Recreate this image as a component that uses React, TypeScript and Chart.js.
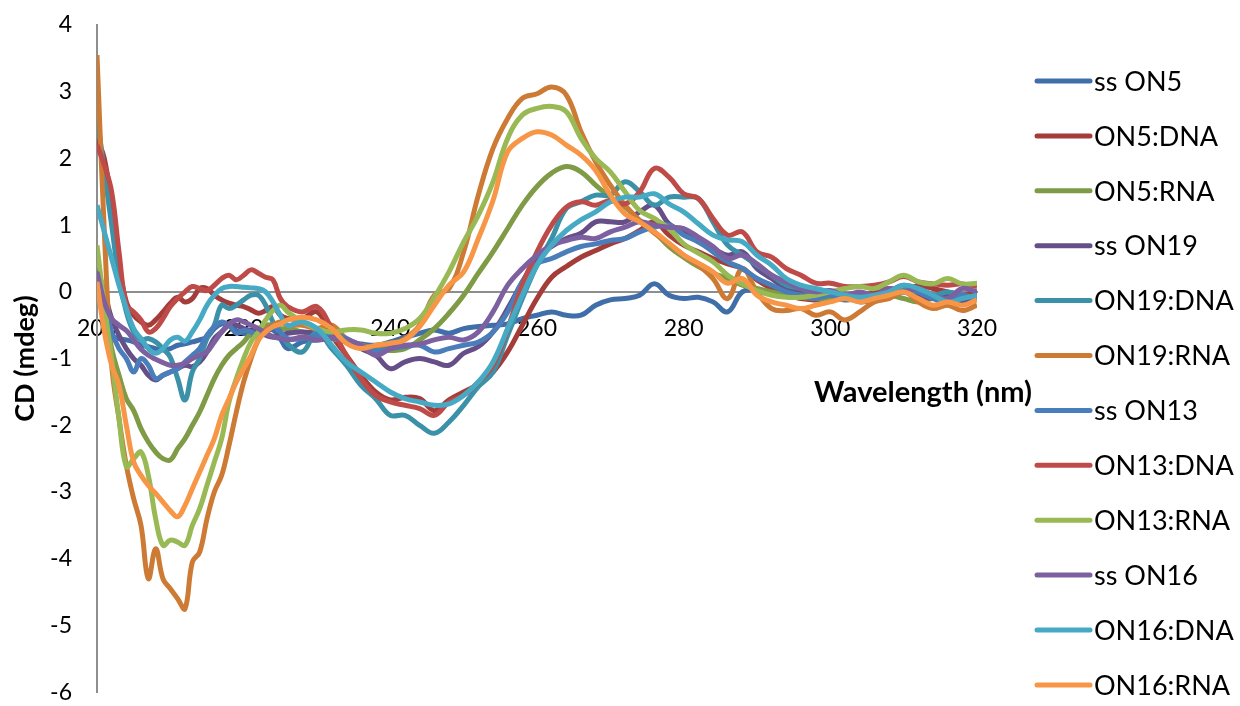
import React, { useEffect, useRef } from 'react';
import { Chart, registerables } from 'chart.js';

Chart.register(...registerables);

// Wavelength grid (nm): 1 nm steps 200-226, 2 nm steps 228-320
const wavelengths = [
  200, 201, 202, 203, 204, 205, 206, 207, 208, 209, 210, 211, 212, 213, 214, 215, 216, 217, 218, 219, 220, 221, 222, 223, 224, 225, 226,
  228, 230, 232, 234, 236, 238, 240, 242, 244, 246, 248, 250, 252, 254, 256, 258, 260, 262, 264, 266, 268, 270, 272, 274, 276, 278, 280,
  282, 284, 286, 288, 290, 292, 294, 296, 298, 300, 302, 304, 306, 308, 310, 312, 314, 316, 318, 320,
];

const xTicks = [200, 220, 240, 260, 280, 300, 320];
const yTicks = [-6, -5, -4, -3, -2, -1, 0, 1, 2, 3, 4];

const seriesNames = [
  'ss ON5', 'ON5:DNA', 'ON5:RNA', 'ss ON19', 'ON19:DNA', 'ON19:RNA',
  'ss ON13', 'ON13:DNA', 'ON13:RNA', 'ss ON16', 'ON16:DNA', 'ON16:RNA',
];

const seriesColors = [
  '#3F6EA8', '#A43D3A', '#7F9B46', '#664F88', '#3A91A8', '#CD7A34',
  '#4A7EBB', '#BE4B48', '#98B954', '#7D60A0', '#46AAC5', '#F79646',
];

const ssON5 = [
  0.05, -0.35, -0.65, -0.7, -0.72, -0.75, -0.8, -0.82, -0.85, -0.87, -0.85, -0.8, -0.78, -0.75, -0.72, -0.68, -0.55, -0.48, -0.5, -0.58, -0.62, -0.65, -0.67, -0.6, -0.57, -0.7, -0.85,
  -0.75, -0.72, -0.7, -0.75, -0.78, -0.8, -0.75, -0.68, -0.62, -0.57, -0.62, -0.55, -0.52, -0.5, -0.48, -0.4, -0.35, -0.3, -0.35, -0.35,
  -0.2, -0.12, -0.1, -0.05, 0.12, -0.05, -0.1, -0.08, -0.15, -0.3, 0.0, 0.02, 0.0, -0.05, -0.05, -0.1, -0.08, -0.12, -0.1, -0.05,
  0.0, 0.05, -0.05, -0.1, -0.05, -0.12, -0.05,
];

const on5DNA = [
  2.3, 2.0, 1.3, 0.4, -0.15, -0.35, -0.45, -0.5, -0.42, -0.3, -0.17, -0.08, -0.15, -0.1, 0.05, 0.05, -0.05, -0.12, -0.17, -0.2, -0.22, -0.27, -0.32, -0.28, -0.22, -0.35, -0.4,
  -0.4, -0.3, -0.65, -0.95, -1.25, -1.5, -1.62, -1.58, -1.6, -1.78, -1.62, -1.5, -1.38, -1.2, -0.9, -0.5, -0.1, 0.22, 0.38, 0.52,
  0.62, 0.72, 0.8, 0.92, 1.05, 0.85, 0.7, 0.6, 0.5, 0.42, 0.35, 0.18, 0.05, -0.05, -0.1, -0.12, -0.08, -0.05, -0.1, 0.0,
  0.05, 0.0, 0.1, 0.05, 0.0, -0.05, 0.0,
];

const on5RNA = [
  0.45, -0.2, -0.85, -1.25, -1.6, -1.78, -2.05, -2.25, -2.4, -2.5, -2.52, -2.35, -2.2, -2.0, -1.8, -1.55, -1.3, -1.1, -0.95, -0.85, -0.75, -0.62, -0.55, -0.5, -0.5, -0.55, -0.55,
  -0.6, -0.65, -0.7, -0.75, -0.8, -0.85, -0.88, -0.85, -0.72, -0.55, -0.32, -0.05, 0.28, 0.6, 0.95, 1.3, 1.58, 1.78, 1.88, 1.8,
  1.6, 1.42, 1.27, 1.07, 0.9, 0.68, 0.52, 0.38, 0.28, 0.2, 0.1, 0.05, 0.0, -0.05, -0.08, -0.1, -0.12, -0.1, -0.12, -0.1,
  -0.05, -0.1, -0.15, -0.1, -0.12, -0.08, -0.1,
];

const ssON19 = [
  0.35, 0.0, -0.4, -0.65, -0.85, -1.0, -1.1, -1.25, -1.32, -1.25, -1.2, -1.15, -1.1, -1.12, -1.05, -0.9, -0.7, -0.6, -0.5, -0.5, -0.55, -0.58, -0.6, -0.65, -0.68, -0.65, -0.62,
  -0.6, -0.62, -0.65, -0.7, -0.85, -0.95, -1.15, -1.05, -1.0, -1.05, -1.1, -0.92, -0.82, -0.6, -0.25, 0.15, 0.5, 0.68, 0.8, 0.88,
  1.05, 1.05, 1.05, 1.2, 1.3, 1.02, 0.9, 0.75, 0.65, 0.55, 0.6, 0.35, 0.2, 0.05, 0.0, -0.05, 0.0, -0.05, -0.15, -0.1,
  0.0, 0.05, -0.05, -0.1, -0.05, -0.15, -0.05,
];

const on19DNA = [
  2.65, 1.8, 1.0, 0.2, -0.3, -0.6, -0.72, -0.7, -0.75, -0.85, -0.98, -1.3, -1.62, -1.2, -1.0, -0.7, -0.5, -0.2, -0.25, -0.2, -0.12, -0.05, -0.05, -0.2, -0.45, -0.6, -0.78,
  -0.9, -0.6, -0.85, -1.1, -1.4, -1.6, -1.85, -1.85, -2.0, -2.12, -1.95, -1.7, -1.42, -1.2, -0.65, -0.1, 0.4, 0.8, 1.25, 1.35,
  1.45, 1.45, 1.65, 1.5, 1.3, 1.42, 1.42, 1.4, 1.05, 0.7, 0.55, 0.4, 0.25, 0.1, 0.05, -0.05, 0.0, -0.05, -0.1, -0.05,
  0.0, 0.05, 0.0, -0.05, 0.0, -0.05, -0.1,
];

const on19RNA = [
  3.55, 0.9, -1.1, -1.9, -2.6, -3.1, -3.5, -4.3, -3.85, -4.3, -4.45, -4.6, -4.75, -4.05, -3.9, -3.4, -3.0, -2.75, -2.3, -1.8, -1.35, -1.0, -0.72, -0.55, -0.5, -0.45, -0.5,
  -0.5, -0.55, -0.5, -0.7, -0.8, -0.85, -0.8, -0.7, -0.5, -0.05, 0.05, 0.6, 1.45, 2.15, 2.6, 2.9, 2.97, 3.07, 2.95, 2.4,
  1.95, 1.6, 1.3, 1.07, 0.88, 0.72, 0.55, 0.4, 0.2, -0.1, 0.35, 0.0, -0.25, -0.28, -0.25, -0.35, -0.3, -0.42, -0.3, -0.15,
  -0.1, 0.0, -0.15, -0.25, -0.2, -0.28, -0.2,
];

const ssON13 = [
  0.2, -0.2, -0.6, -0.85, -1.0, -1.2, -1.0, -1.1, -1.3, -1.25, -1.2, -1.15, -1.05, -0.95, -0.85, -0.65, -0.52, -0.45, -0.5, -0.62, -0.58, -0.6, -0.67, -0.6, -0.52, -0.6, -0.7,
  -0.7, -0.65, -0.62, -0.7, -0.8, -0.88, -0.85, -0.82, -0.8, -0.9, -0.85, -0.8, -0.75, -0.6, -0.3, 0.15, 0.42, 0.5, 0.6, 0.68,
  0.72, 0.77, 0.8, 0.9, 0.97, 1.0, 0.85, 0.75, 0.6, 0.45, 0.35, 0.2, 0.1, 0.0, -0.05, -0.1, -0.05, -0.1, -0.05, -0.1,
  0.0, 0.1, 0.0, -0.1, -0.15, -0.05, -0.1,
];

const on13DNA = [
  2.2, 1.9, 1.5, 0.6, -0.2, -0.3, -0.42, -0.6, -0.55, -0.4, -0.22, -0.1, 0.0, 0.08, 0.05, 0.02, 0.1, 0.2, 0.25, 0.18, 0.25, 0.33, 0.28, 0.22, 0.18, -0.1, -0.22,
  -0.3, -0.22, -0.55, -0.95, -1.3, -1.55, -1.65, -1.7, -1.75, -1.85, -1.65, -1.55, -1.35, -1.1, -0.55, 0.1, 0.6, 1.0, 1.27, 1.35,
  1.3, 1.37, 1.32, 1.5, 1.85, 1.72, 1.47, 1.4, 1.1, 0.85, 0.9, 0.6, 0.52, 0.35, 0.25, 0.13, 0.13, 0.08, 0.08, 0.1,
  0.15, 0.23, 0.15, 0.12, 0.1, 0.12, 0.08,
];

const on13RNA = [
  0.7, -0.2, -1.0, -1.9, -2.62, -2.5, -2.4, -2.75, -3.4, -3.8, -3.72, -3.75, -3.8, -3.5, -3.25, -2.9, -2.55, -2.2, -1.65, -1.3, -1.0, -0.75, -0.6, -0.42, -0.28, -0.2, -0.3,
  -0.45, -0.55, -0.6, -0.57, -0.57, -0.62, -0.62, -0.55, -0.4, -0.08, 0.3, 0.75, 1.15, 1.65, 2.3, 2.65, 2.75, 2.78, 2.7, 2.3,
  2.0, 1.8, 1.5, 1.22, 1.1, 0.95, 0.72, 0.58, 0.45, 0.25, 0.12, 0.02, -0.05, -0.08, -0.08, -0.05, 0.0, 0.05, 0.08, 0.05,
  0.15, 0.25, 0.15, 0.12, 0.2, 0.12, 0.13,
];

const ssON16 = [
  0.3, -0.15, -0.4, -0.5, -0.58, -0.72, -0.86, -0.95, -1.01, -1.06, -1.1, -1.1, -1.07, -1.0, -0.95, -0.9, -0.75, -0.6, -0.48, -0.42, -0.45, -0.5, -0.55, -0.62, -0.67, -0.7, -0.72,
  -0.68, -0.72, -0.7, -0.72, -0.8, -0.95, -0.85, -0.8, -0.78, -0.72, -0.68, -0.72, -0.6, -0.3, 0.1, 0.35, 0.55, 0.7, 0.77, 0.82,
  0.8, 0.9, 0.97, 1.05, 1.0, 0.97, 0.95, 0.82, 0.68, 0.5, 0.55, 0.42, 0.25, 0.15, 0.05, 0.0, 0.02, -0.05, 0.0, -0.05,
  0.05, 0.0, 0.05, -0.05, -0.1, 0.05, 0.0,
];

const on16DNA = [
  1.3, 0.9, 0.5, 0.1, -0.25, -0.55, -0.7, -0.85, -0.92, -0.85, -0.72, -0.68, -0.74, -0.6, -0.42, -0.2, -0.05, 0.05, 0.08, 0.08, 0.07, 0.06, 0.05, 0.0, -0.15, -0.35, -0.5,
  -0.45, -0.55, -0.8, -1.05, -1.2, -1.35, -1.5, -1.6, -1.65, -1.7, -1.68, -1.55, -1.35, -1.05, -0.55, -0.05, 0.4, 0.7, 0.92, 1.08,
  1.2, 1.35, 1.42, 1.42, 1.47, 1.32, 1.2, 1.02, 0.85, 0.78, 0.75, 0.55, 0.4, 0.2, 0.1, 0.05, 0.0, -0.05, -0.08, -0.05,
  0.0, 0.1, 0.05, -0.05, -0.15, -0.1, -0.05,
];

const on16RNA = [
  0.15, -0.6, -1.1, -1.4, -2.0, -2.55, -2.75, -2.9, -3.02, -3.15, -3.28, -3.37, -3.2, -2.95, -2.7, -2.45, -2.2, -1.85, -1.6, -1.35, -1.15, -0.95, -0.72, -0.6, -0.52, -0.48, -0.42,
  -0.38, -0.42, -0.55, -0.77, -0.85, -0.8, -0.77, -0.72, -0.52, -0.2, 0.1, 0.3, 0.8, 1.37, 2.1, 2.3, 2.4, 2.35, 2.2, 2.05,
  1.82, 1.45, 1.17, 1.05, 0.9, 0.73, 0.55, 0.43, 0.3, 0.13, 0.2, -0.05, -0.15, -0.2, -0.25, -0.2, -0.15, -0.1, -0.15, -0.1,
  -0.05, 0.0, -0.1, -0.2, -0.15, -0.2, -0.12,
];

const seriesValues = [
  ssON5, on5DNA, on5RNA, ssON19, on19DNA, on19RNA,
  ssON13, on13DNA, on13RNA, ssON16, on16DNA, on16RNA,
];

const FONT = 'Lato, "Open Sans", sans-serif';

// target plot rectangle in the 1240x706 canvas
const PLOT_TOP = 25;
const PLOT_BOTTOM = 695;
const PLOT_RIGHT = 977;

export default function App() {
  const canvasRef = useRef<HTMLCanvasElement | null>(null);

  useEffect(() => {
    document.body.style.margin = '0';
    const canvas = canvasRef.current;
    if (!canvas) return;

    const datasets = seriesValues.map((vals, i) => ({
      label: seriesNames[i],
      data: wavelengths.map((w, j) => ({ x: w, y: vals[j] })),
      borderColor: seriesColors[i],
      backgroundColor: seriesColors[i],
      borderWidth: 5,
      pointRadius: 0,
      pointHoverRadius: 0,
      tension: 0.4,
      fill: false,
      order: seriesValues.length - 1 - i,
    }));

    const overlay = {
      id: 'overlay',
      afterDraw(chart: any) {
        const c = chart.ctx;
        const area = chart.chartArea;
        const zeroY = chart.scales.y.getPixelForValue(0);
        c.save();
        // x axis title
        c.font = `bold 29px ${FONT}`;
        c.fillStyle = '#000000';
        c.textAlign = 'right';
        c.textBaseline = 'middle';
        c.fillText('Wavelength (nm)', area.right + 55, zeroY + 101);
        // legend
        c.font = `27px ${FONT}`;
        c.textAlign = 'left';
        c.lineCap = 'round';
        c.lineWidth = 5;
        seriesNames.forEach((name, i) => {
          const y = 81 + i * 54.9;
          c.strokeStyle = seriesColors[i];
          c.beginPath();
          c.moveTo(1037, y);
          c.lineTo(1090, y);
          c.stroke();
          c.fillStyle = '#000000';
          c.fillText(name, 1094, y + 1);
        });
        c.restore();
      },
    };

    const padding = { left: 0, right: 1240 - PLOT_RIGHT, top: PLOT_TOP, bottom: 706 - PLOT_BOTTOM };

    const chart = new Chart(canvas, {
      type: 'line',
      data: { datasets: datasets as any },
      options: {
        responsive: false,
        animation: false,
        layout: { padding },
        plugins: {
          legend: { display: false },
          tooltip: { enabled: false },
        },
        scales: {
          x: {
            type: 'linear',
            min: xTicks[0],
            max: xTicks[xTicks.length - 1],
            position: { y: 0 } as any,
            afterBuildTicks: (s: any) => { s.ticks = xTicks.map((v) => ({ value: v })); },
            afterFit: (s: any) => { s.height = 0; },
            ticks: { color: '#000000', font: { family: FONT, size: 23 }, padding: 0, maxRotation: 0, autoSkip: false },
            grid: {
              display: true, drawOnChartArea: false, drawTicks: true,
              tickLength: 23, tickColor: 'rgba(0,0,0,0)', color: 'rgba(0,0,0,0)',
            },
            border: { display: true, color: '#8e8e8e', width: 2 },
          },
          y: {
            type: 'linear',
            min: yTicks[0],
            max: yTicks[yTicks.length - 1],
            afterBuildTicks: (s: any) => { s.ticks = yTicks.map((v) => ({ value: v })); },
            afterFit: (s: any) => { s.width = 97; },
            ticks: { color: '#000000', font: { family: FONT, size: 23 }, padding: 0, autoSkip: false },
            grid: {
              display: true, drawOnChartArea: false, drawTicks: true,
              tickLength: 25, tickColor: 'rgba(0,0,0,0)', color: 'rgba(0,0,0,0)',
            },
            border: { display: true, color: '#8e8e8e', width: 2 },
            title: {
              display: true,
              text: 'CD (mdeg)',
              color: '#000000',
              font: { family: FONT, size: 27, weight: 'bold' },
              padding: { top: 9, bottom: 0 },
            },
          },
        },
      },
      plugins: [overlay],
    });

    // compensate any extra space the layout reserved so the plot rectangle matches the target
    for (let k = 0; k < 2; k++) {
      const a = chart.chartArea;
      const dTop = a.top - PLOT_TOP;
      const dBottom = PLOT_BOTTOM - a.bottom;
      if (Math.abs(dTop) < 0.5 && Math.abs(dBottom) < 0.5) break;
      padding.top -= dTop;
      padding.bottom -= dBottom;
      (chart.options as any).layout.padding = { ...padding };
      chart.update();
    }

    return () => chart.destroy();
  }, []);

  return (
    <div style={{ width: 1240, height: 706, background: '#ffffff' }}>
      <canvas ref={canvasRef} width={1240} height={706} style={{ display: 'block' }} />
    </div>
  );
}
